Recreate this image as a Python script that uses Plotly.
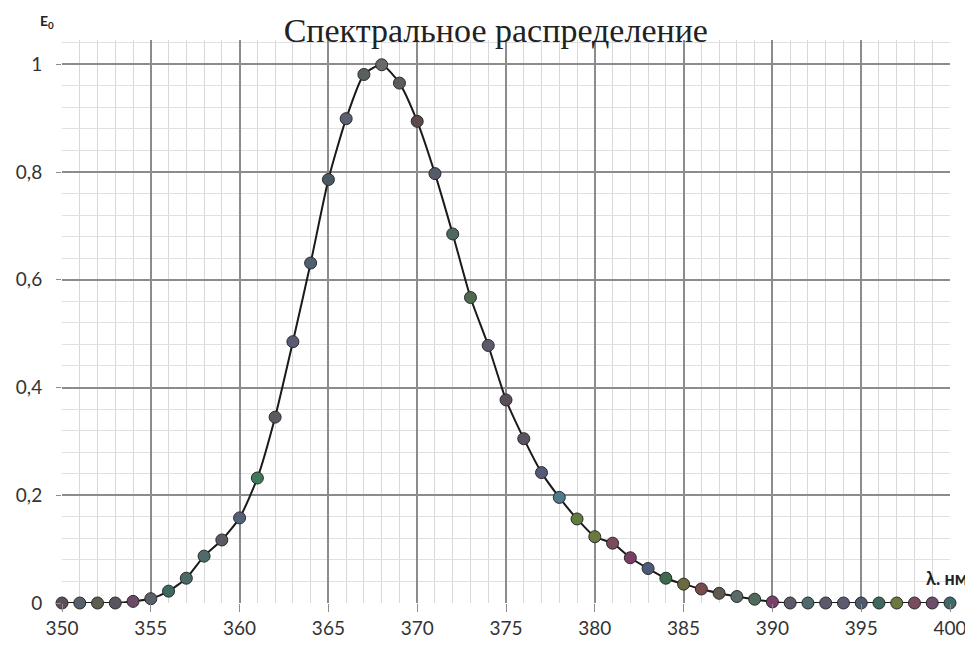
import plotly.graph_objects as go

wavelength = list(range(350, 401))
intensity = [0.0, 0.0, 0.0, 0.0, 0.003, 0.008, 0.022, 0.046, 0.087, 0.117,
             0.158, 0.232, 0.345, 0.485, 0.631, 0.786, 0.899, 0.981, 0.999, 0.965,
             0.894, 0.797, 0.685, 0.567, 0.478, 0.377, 0.305, 0.242, 0.196, 0.156,
             0.123, 0.111, 0.084, 0.064, 0.046, 0.035, 0.026, 0.018, 0.012, 0.007,
             0.002, 0.0, 0.0, 0.0, 0.0, 0.0, 0.0, 0.0, 0.0, 0.0, 0.0]

x_ticks = [350, 355, 360, 365, 370, 375, 380, 385, 390, 395, 400]
y_ticks = [0, 0.2, 0.4, 0.6, 0.8, 1]
y_tick_labels = ["0", "0,2", "0,4", "0,6", "0,8", "1"]

title_text = "Спектральное распределение"
y_label = "E<sub>0</sub>"
x_label = "λ. нм"

marker_palette = ["#5e4e5a", "#55606a", "#5c5e4e", "#5a5460", "#6a4a66", "#5a6068",
                  "#3e6a62", "#4a6a66", "#4e6a6a", "#5a5a62", "#54607a", "#3e7a5a",
                  "#5a5a60", "#5a5c74", "#4e6070", "#4a5a62", "#5a6070", "#5a6060",
                  "#6a6a6a", "#5c5a5c", "#5a4a4a", "#545a68", "#4e6a5e", "#4e6a4e",
                  "#5a5a6a", "#5a4e5a", "#5a5260", "#54587a", "#4e7a8a", "#607a40",
                  "#6a7a3e", "#7a4a5e", "#7a3e66", "#4e5a7a", "#3e6a4e", "#6a6a3e",
                  "#7a4a4a", "#5e5a4e", "#5a6a6a", "#4e6a5a", "#7a3e6a", "#5a5a6a",
                  "#4e6a6a", "#5a5a6a", "#5a5a70", "#4e5a6a", "#3e6a5e", "#6a7a3e",
                  "#7a4a5e", "#6a4e6a", "#3e6a6a"]

fig = go.Figure()
fig.add_trace(go.Scatter(
    x=wavelength, y=intensity, mode="lines+markers",
    line=dict(color="#1a1a1a", width=2, shape="spline", smoothing=0.6),
    marker=dict(size=12, color=marker_palette, line=dict(color="#2a2a2a", width=1)),
    cliponaxis=False, showlegend=False,
))

tick_font = dict(family="Lato, 'Open Sans', sans-serif", size=19, color="#333333")

fig.update_layout(
    width=965, height=638,
    margin=dict(l=54, r=23, t=32, b=43),
    paper_bgcolor="white", plot_bgcolor="white",
    title=dict(text=title_text, x=0.5055, xanchor="center", y=0.966, yanchor="middle",
               font=dict(family="Liberation Serif, serif", size=34, color="#222222")),
    xaxis=dict(range=[350, 400], tickvals=x_ticks, ticks="outside", ticklen=8,
               tickcolor="#8c8c8c", showgrid=True, gridcolor="#8c8c8c", gridwidth=1.5,
               zeroline=False, showline=False, tickfont=tick_font, automargin=False,
               minor=dict(dtick=1, showgrid=True, gridcolor="#d9d9d9", gridwidth=1)),
    yaxis=dict(range=[0, 1.045], tickvals=y_ticks, ticktext=y_tick_labels,
               ticks="outside", ticklen=5, tickcolor="#8c8c8c",
               showgrid=True, gridcolor="#8c8c8c", gridwidth=1.5,
               zeroline=False, showline=False, tickfont=tick_font, automargin=False,
               ticklabelstandoff=10,
               minor=dict(tick0=0, dtick=0.04, showgrid=True, gridcolor="#e0e0e0", gridwidth=1)),
    annotations=[
        dict(text="<b>" + y_label + "</b>", xref="paper", yref="paper", x=-0.017, y=1.033,
             xanchor="center", yanchor="middle", showarrow=False,
             font=dict(family="Lato, sans-serif", size=14, color="#222222")),
        dict(text="<b>" + x_label + "</b>", xref="paper", yref="paper", x=1.0225, y=0.044,
             xanchor="right", yanchor="middle", showarrow=False,
             font=dict(family="Lato, sans-serif", size=18, color="#222222")),
    ],
)

fig.write_html("out.html")
